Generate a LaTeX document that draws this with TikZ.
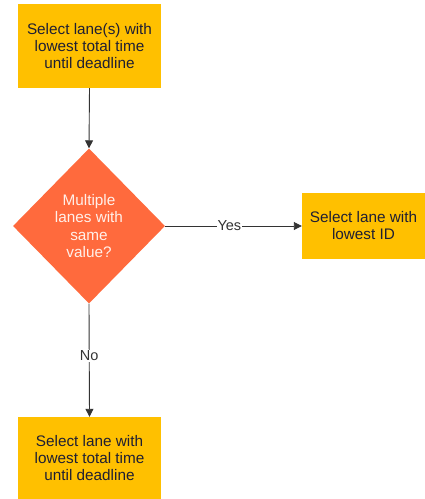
\documentclass[tikz,border=0pt]{standalone}
\usepackage{fontspec}
\setmainfont{Liberation Sans}
\usetikzlibrary{shapes.geometric,arrows.meta}
\definecolor{boxfill}{HTML}{FFC000}
\definecolor{decfill}{HTML}{FF6A3D}
\definecolor{boxtext}{HTML}{1F1F33}
\definecolor{dectext}{HTML}{FFF0EA}
\definecolor{linecol}{HTML}{333333}
\tikzset{
  x=1pt, y=-1pt,
  procbox/.style={fill=boxfill, text=boxtext, align=center, inner sep=0pt,
    font=\fontsize{15.3}{17}\selectfont},
  decision/.style={diamond, fill=decfill, text=dectext, align=center, inner sep=0pt,
    aspect=0.98, minimum width=152pt, minimum height=155pt,
    font=\fontsize{15.3}{17.5}\selectfont},
  flow/.style={draw=linecol, line width=0.9pt, -{Triangle[length=8pt,width=8pt]}},
  branchlabel/.style={fill=white, text=linecol, inner sep=1pt,
    font=\fontsize{14.5}{17}\selectfont}
}
\begin{document}
\begin{tikzpicture}
\useasboundingbox (0,0) rectangle (425,499);
\node[procbox, minimum width=143pt, minimum height=84pt] (start) at (89.5,46)
  {Select lane(s) with\\lowest total time\\until deadline};
\node[decision] (dec) at (89,226) {Multiple\\lanes with\\same\\value?};
\node[procbox, minimum width=123pt, minimum height=66pt] (lowid) at (363.5,226)
  {Select lane with\\lowest ID};
\node[procbox, minimum width=143pt, minimum height=82pt] (lowtime) at (89.5,458)
  {Select lane with\\lowest total time\\until deadline};
\draw[flow] (start.south) -- (dec.north);
\draw[flow] (dec.east) -- node[branchlabel, pos=0.47] (yes) {Yes} (lowid.west);
\draw[flow] (dec.south) -- node[branchlabel, pos=0.46] (no) {No} (lowtime.north);
\end{tikzpicture}
\end{document}
